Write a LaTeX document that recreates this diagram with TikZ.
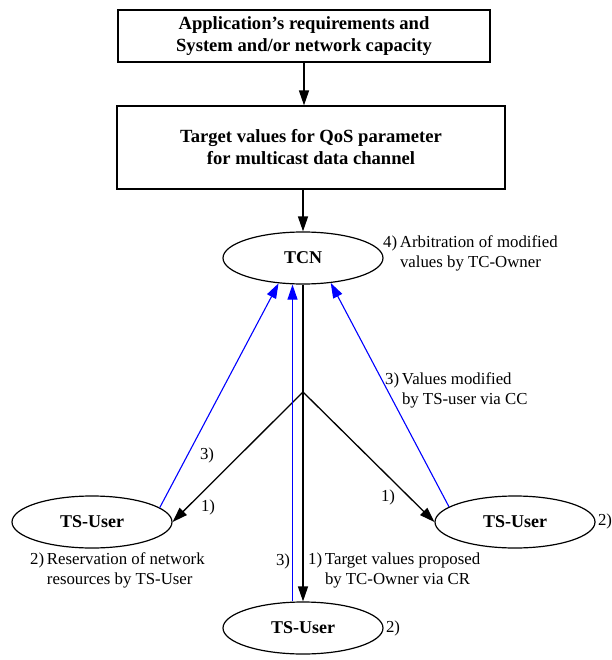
\documentclass[tikz,border=0pt]{standalone}
\usepackage{fontspec}
\setmainfont{Liberation Serif}
\usetikzlibrary{arrows.meta, shapes.geometric}
\newcommand{\numlabel}[3]{\begin{tabular}{@{}l@{\,}l@{}}#1 & #2\\ & #3\end{tabular}}
\begin{document}
\begin{tikzpicture}[x=1pt, y=-1pt,
	box/.style={draw, line width=1.2pt, rectangle, font=\fontsize{18.6}{22}\selectfont\bfseries, align=center},
	party/.style={draw, line width=1.2pt, ellipse, minimum width=160pt, minimum height=52pt, inner sep=0pt, font=\fontsize{18}{22}\selectfont\bfseries},
	note/.style={font=\fontsize{16.8}{20}\selectfont, inner sep=0pt},
	flow/.style={line width=1.3pt, -{Triangle[length=15pt, width=10pt]}},
	reply/.style={blue, line width=1.1pt, -{Triangle[length=15pt, width=10pt]}}]
				\useasboundingbox (0,0) rectangle (611,660);
				\node (app) at (304,36)       [box, minimum width=372pt, minimum height=52pt] {Application's requirements and\\System and/or network capacity};
				\node (target) at (311,147.5) [box, minimum width=388pt, minimum height=83pt] {Target values for QoS parameter\\for multicast data channel};
				\node (tcn) at (303,258)      [party] {TCN};
				\node (userl) at (92,522)     [party] {TS-User};
				\node (userr) at (515,522)    [party] {TS-User};
				\node (userb) at (303,628)    [party] {TS-User};
				\coordinate (split) at (303,392);
				\node (arb) at (383,253)      [note, anchor=west] {\numlabel{4)}{Arbitration of modified}{values by TC-Owner}};
				\node (mod) at (385,390)      [note, anchor=west] {\numlabel{3)}{Values modified}{by TS-user via CC}};
				\node (res) at (30,570)       [note, anchor=west] {\numlabel{2)}{Reservation of network}{resources by TS-User}};
				\node (prop) at (308,570)     [note, anchor=west] {\numlabel{1)}{Target values proposed}{by TC-Owner via CR}};
				\node (l3) at (207,455)       [note] {3)};
				\node (l1) at (208,507)       [note] {1)};
				\node (b3) at (283,561)       [note] {3)};
				\node (r1) at (388,497)       [note] {1)};
				\node (r2) at (605,521)       [note] {2)};
				\node (b2) at (393,628)       [note] {2)};
				\draw[flow] (app.south) -- (app.south |- target.north);
				\draw[flow] (target.south -| tcn.north) -- (tcn.north);
				\draw[flow] (tcn.south) -- (userb.north);
				\draw[flow] (split) -- (userl.east);
				\draw[flow] (split) -- (userr.west);
				\draw[reply] (userl.12) -- (tcn.226);
				\draw[reply] ([xshift=-10.5pt]userb.north) -- ([xshift=-10.5pt]tcn.south);
				\draw[reply] (userr.167) -- (tcn.318);
			\end{tikzpicture}
\end{document}
